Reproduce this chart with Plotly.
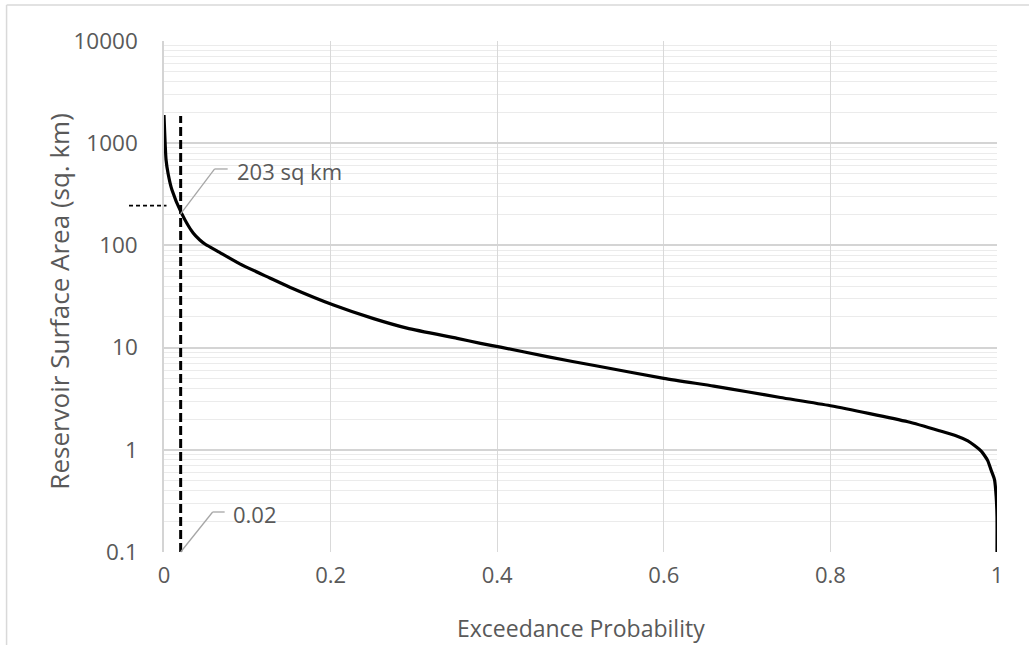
import math
import plotly.graph_objects as go

# ---- data ----
exceedance = [0.0, 0.0025, 0.005, 0.0096, 0.021, 0.035, 0.043, 0.05, 0.064,
              0.091, 0.127, 0.151, 0.2035, 0.2516, 0.2917, 0.352, 0.38,
              0.404, 0.46, 0.52, 0.60, 0.66, 0.70, 0.74, 0.80, 0.893,
              0.933, 0.95, 0.965, 0.973, 0.981, 0.985, 0.989, 0.993, 0.997,
              0.999, 1.0, 1.0]
area = [1890, 685, 500, 348, 207, 132, 113, 102, 88,
        66, 48, 39, 26.1, 19.2, 15.5, 12.3, 11.0,
        10.1, 8.15, 6.6, 5.0, 4.2, 3.7, 3.25, 2.7, 1.88,
        1.52, 1.38, 1.22, 1.10, 0.97, 0.88, 0.78, 0.63, 0.51,
        0.35, 0.22, 0.1]

x_ticks = [0, 0.2, 0.4, 0.6, 0.8, 1]
x_tick_labels = ["0", "0.2", "0.4", "0.6", "0.8", "1"]
y_ticks = [0.1, 1, 10, 100, 1000, 10000]
y_tick_labels = ["0.1", "1", "10", "100", "1000", "10000"]

marker_prob = 0.02          # vertical dashed reference
marker_top = 1850           # top of vertical dashed line
marker_area = 203           # annotated area
marker_hline_area = 245     # short horizontal dashed tick at left
label_area = "203 sq km"
label_prob = "0.02"

TXT = "#595959"
LEADER = "#a6a6a6"
FONT = "Open Sans"

fig = go.Figure()

fig.add_trace(go.Scatter(
    x=exceedance, y=area, mode="lines", line_shape="spline",
    line=dict(color="black", width=3.2, smoothing=0.6), showlegend=False,
    hoverinfo="skip"))

fig.add_trace(go.Scatter(
    x=[marker_prob, marker_prob], y=[y_ticks[0], marker_top], mode="lines",
    line=dict(color="black", width=3, dash="9px,4px"), showlegend=False,
    hoverinfo="skip"))

ymin, ymax = math.log10(y_ticks[0]), math.log10(y_ticks[-1])
def ypaper(v):
    return (math.log10(v) - ymin) / (ymax - ymin)

def leader(yval, dx, dy, dx2):
    """Excel-style elbow leader line anchored at (marker_prob, yval)."""
    common = dict(type="line", xref="x", yref="paper", xsizemode="pixel",
                  ysizemode="pixel", xanchor=marker_prob, yanchor=ypaper(yval),
                  line=dict(color=LEADER, width=1.3))
    return [dict(x0=0, y0=0, x1=dx, y1=dy, **common),
            dict(x0=dx, y0=dy, x1=dx2, y1=dy, **common)]

shapes = [
    dict(type="line", xref="paper", yref="paper", x0=-0.042, x1=0.003,
         y0=ypaper(marker_hline_area), y1=ypaper(marker_hline_area),
         line=dict(color="black", width=1.8, dash="4px,3px")),
    # outer chart border (left + top)
    dict(type="line", xref="paper", yref="paper", x0=-0.189, x1=-0.189,
         y0=-0.2, y1=1.0705, line=dict(color="#d9d9d9", width=1.5)),
    dict(type="line", xref="paper", yref="paper", x0=-0.189, x1=1.05,
         y0=1.0705, y1=1.0705, line=dict(color="#d9d9d9", width=1.5)),
]
shapes += leader(marker_area, 34, 45, 47)
shapes += leader(y_ticks[0], 32, 40, 44)

annotations = [
    dict(x=marker_prob, y=math.log10(marker_area), xref="x", yref="y",
         text=label_area, showarrow=False, xanchor="left", yanchor="middle",
         xshift=54, yshift=43, font=dict(family=FONT, size=22, color=TXT)),
    dict(x=marker_prob, y=math.log10(y_ticks[0]), xref="x", yref="y",
         text=label_prob, showarrow=False, xanchor="left", yanchor="middle",
         xshift=50, yshift=38, font=dict(family=FONT, size=22, color=TXT)),
    dict(x=-0.126, y=0.49, xref="paper", yref="paper",
         xanchor="center", yanchor="middle",
         text="Reservoir Surface Area (sq. km)",
         textangle=-90, showarrow=False, font=dict(family=FONT, size=26, color=TXT)),
    dict(x=0.5, y=-0.149, xref="paper", yref="paper", text="Exceedance Probability",
         xanchor="center", yanchor="middle",
         showarrow=False, font=dict(family=FONT, size=23, color=TXT)),
]

fig.update_layout(
    width=1029, height=645,
    margin=dict(l=164, r=32, t=41, b=93),
    paper_bgcolor="white", plot_bgcolor="white",
    font=dict(family=FONT, color=TXT),
    shapes=shapes, annotations=annotations,
    showlegend=False,
)

fig.update_xaxes(
    range=[0, 1], tickmode="array", tickvals=x_ticks, ticktext=x_tick_labels,
    showgrid=True, gridcolor="#d9d9d9", gridwidth=1.3, zeroline=False,
    showline=False, ticks="", ticklabelstandoff=8,
    tickfont=dict(family=FONT, size=22, color=TXT),
)
fig.update_yaxes(
    type="log", range=[ymin, ymax], tickmode="array", tickvals=y_ticks,
    ticktext=y_tick_labels, showgrid=True, gridcolor="#d4d4d4", gridwidth=1.5,
    zeroline=False, showline=True, linecolor="#d4d4d4", linewidth=1.5,
    ticks="", ticklabelstandoff=20,
    tickfont=dict(family=FONT, size=22.5, color=TXT),
    minor=dict(dtick="D1", showgrid=True, gridcolor="#ebebeb", gridwidth=1.2),
)

fig.write_html("out.html", config={"displayModeBar": False},
               post_script="document.body.style.margin='0px';")
